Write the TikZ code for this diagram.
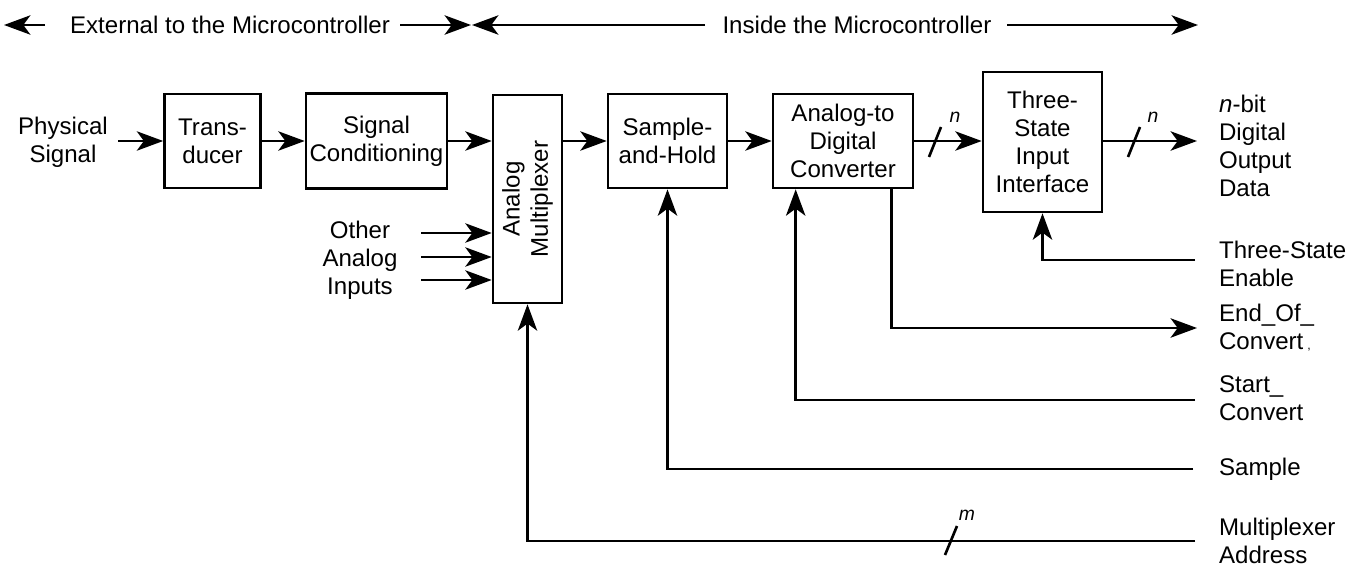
\documentclass[tikz,border=0pt]{standalone}
\usepackage{fontspec}
\setmainfont{Liberation Sans}
\usetikzlibrary{arrows.meta}
\tikzset{
  blk/.style={draw,line width=1.5pt,align=center,inner sep=1pt},
  lbl/.style={align=center,inner sep=1pt},
  rlbl/.style={anchor=west,align=left,inner sep=1pt},
  wire/.style={line width=1.5pt},
  arr/.style={wire,-{Stealth[length=15pt,width=11pt,inset=4pt]}},
  slash/.style={line width=1.5pt},
}
\begin{document}
\begin{tikzpicture}[x=0.02cm,y=-0.02cm,font=\fontsize{13.7}{16}\selectfont]
\useasboundingbox (0,0) rectangle (1357,568);
% header
\node[lbl] (ext) at (230,25) {External to the Microcontroller};
\node[lbl] (ins) at (857,25) {Inside the Microcontroller};
\coordinate (h0) at (4,25);
\coordinate (h1) at (45,25);
\coordinate (h2) at (400,25);
\coordinate (h3) at (471,25);
\coordinate (h4) at (472,25);
\coordinate (h5) at (705,25);
\coordinate (h6) at (1007,25);
\coordinate (h7) at (1198,25);
\draw[arr] (h1) -- (h0);
\draw[arr] (h2) -- (h3);
\draw[arr] (h5) -- (h4);
\draw[arr] (h6) -- (h7);
% blocks
\node[blk,minimum width=1.92cm,minimum height=1.88cm] (tr) at (212.5,141) {Trans-\\ducer};
\node[blk,minimum width=2.82cm,minimum height=1.9cm] (sc) at (376.5,141) {Signal\\Conditioning};
\node[blk,minimum width=1.38cm,minimum height=4.16cm] (mux) at (527.5,199) {};
\node[lbl,rotate=90] (muxt) at (mux.center) {Analog\\Multiplexer};
\node[blk,minimum width=2.38cm,minimum height=1.88cm] (sh) at (667.5,141) {Sample-\\and-Hold};
\node[blk,minimum width=2.8cm,minimum height=1.88cm] (adc) at (843,141) {Analog-to\\Digital\\Converter};
\node[blk,minimum width=2.38cm,minimum height=2.8cm] (tsi) at (1042.5,142) {Three-\\State\\Input\\Interface};
% left labels
\node[lbl] (phys) at (63,142) {Physical\\Signal};
\node[lbl] (oth) at (360,260) {Other\\Analog\\Inputs};
\coordinate (pin) at (118,141);
\coordinate (o1) at (421,233);
\coordinate (o2) at (421,257);
\coordinate (o3) at (421,280);
\draw[arr] (pin) -- (tr.west);
\draw[arr] (tr.east) -- (sc.west);
\draw[arr] (sc.east) -- (sc.east -| mux.west);
\draw[arr] (o1) -- (o1 -| mux.west);
\draw[arr] (o2) -- (o2 -| mux.west);
\draw[arr] (o3) -- (o3 -| mux.west);
\draw[arr] (sh.west -| mux.east) -- (sh.west);
\draw[arr] (sh.east) -- (adc.west);
\draw[arr] (adc.east) -- (adc.east -| tsi.west);
\coordinate (dout) at (1197,141);
\draw[arr] (tsi.east |- dout) -- (dout);
% bus slashes
\draw[slash] (929,157) -- (941,127);
\node[lbl,font=\fontsize{11}{12}\selectfont\itshape] (n1) at (955,117) {n};
\draw[slash] (1128,157) -- (1140,127);
\node[lbl,font=\fontsize{11}{12}\selectfont\itshape] (n2) at (1153,117) {n};
% right labels
\node[rlbl] (dod) at (1217,146) {\textit{n}-bit\\Digital\\Output\\Data};
\node[rlbl] (tse) at (1217,264) {Three-State\\Enable};
\node[rlbl] (eoc) at (1217,328) {End\_Of\_\\Convert\,{\fontsize{7}{8}\selectfont ,}};
\node[rlbl] (stc) at (1217,398) {Start\_\\Convert};
\node[rlbl] (smp) at (1217,469) {Sample};
\node[rlbl] (mad) at (1217,541) {Multiplexer\\Address};
% control lines
\coordinate (cte) at (1195,260);
\coordinate (ceoc) at (1197,328);
\coordinate (cstc) at (1195,400);
\coordinate (csmp) at (1193,469);
\coordinate (cmad) at (1195,541);
\draw[arr] (cte) -| (tsi.south);
\draw[arr] ([xshift=-0.46cm]adc.south east) |- (ceoc);
\draw[arr] (cstc) -| ([xshift=0.48cm]adc.south west);
\draw[arr] (csmp) -| (sh.south);
\draw[arr] (cmad) -| (mux.south);
\draw[slash] (945,555) -- (957,526);
\node[lbl,font=\fontsize{11}{12}\selectfont\itshape] (m1) at (967,515) {m};
\end{tikzpicture}
\end{document}
